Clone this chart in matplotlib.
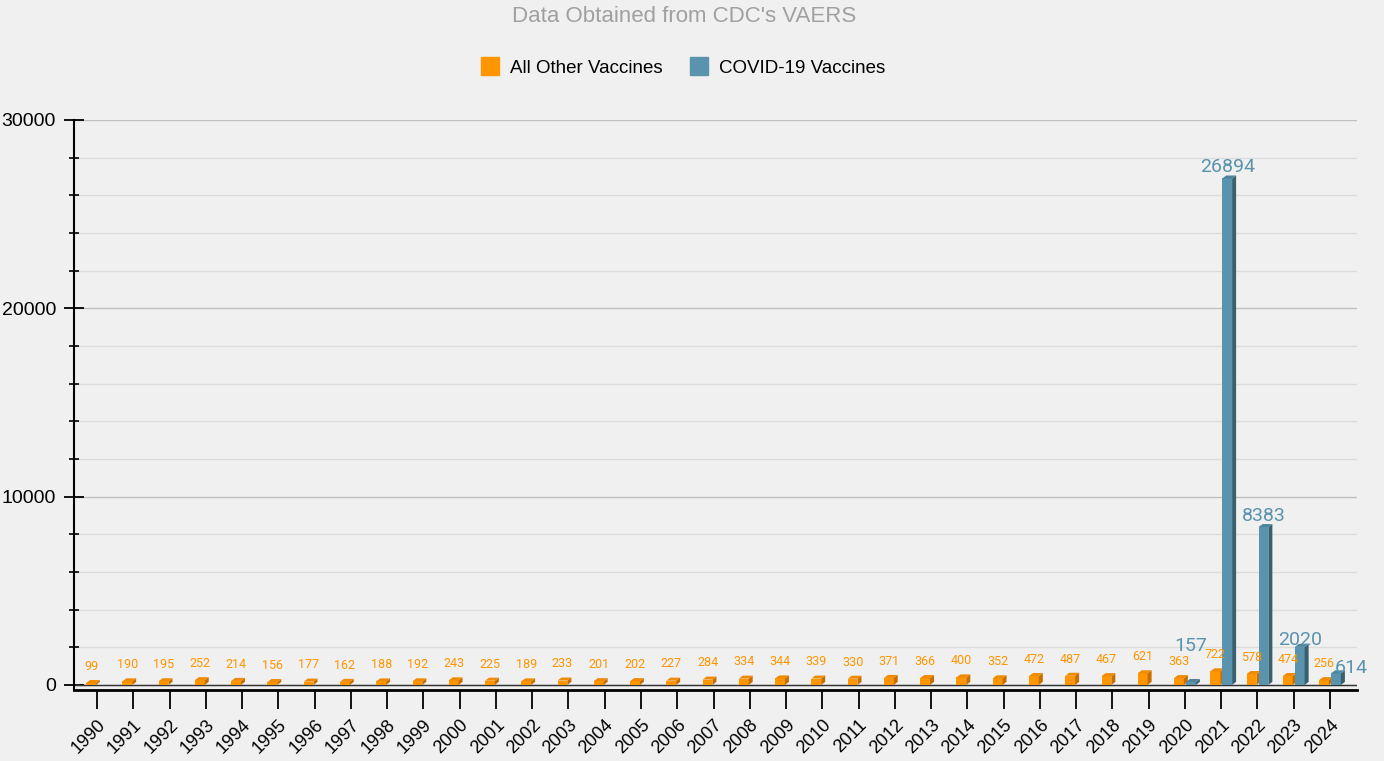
import matplotlib.pyplot as plt
import numpy as np
from matplotlib.lines import Line2D

years = list(range(1990, 2025))
other_vaccines = [99, 190, 195, 252, 214, 156, 177, 162, 188, 192,
                  243, 225, 189, 233, 201, 202, 227, 284, 334, 344,
                  339, 330, 371, 366, 400, 352, 472, 487, 467, 621,
                  363, 722, 578, 474, 256]
covid_years = [2020, 2021, 2022, 2023, 2024]
covid_vaccines = [157, 26894, 8383, 2020, 614]

ORANGE, ORANGE_SIDE, ORANGE_TOP = '#ff9500', '#c46f00', '#f08a00'
BLUE, BLUE_SIDE, BLUE_TOP = '#5a93ae', '#38606f', '#4d849c'
BG = '#f0f0f0'

plt.rcParams['font.family'] = ['Liberation Sans', 'DejaVu Sans']

fig = plt.figure(figsize=(13.84, 7.61), dpi=100, facecolor=BG)
ax = fig.add_axes([74 / 1384, 1 - 690 / 761, 1283 / 1384, 570 / 761])
ax.set_facecolor(BG)

x = np.arange(len(years))
xc = np.array([years.index(y) for y in covid_years])
w = 0.27
off = 0.165

ax.set_xlim(-0.634, len(years) - 1 + 0.744)
ax.set_ylim(-270, 30000)

# pixel size in data units, used for the fake 3d depth of the bars
bb = ax.get_window_extent()
px_x = (ax.get_xlim()[1] - ax.get_xlim()[0]) / bb.width
px_y = (ax.get_ylim()[1] - ax.get_ylim()[0]) / bb.height
dx, dy = 4.0 * px_x, 3.0 * px_y


def bar3d(xpos, vals, front, side, top):
    ax.bar(xpos, vals, w, color=front, zorder=4)
    for xi, v in zip(xpos, vals):
        x1 = xi + w / 2
        ax.fill([x1, x1 + dx, x1 + dx, x1], [0, dy, v + dy, v],
                color=side, lw=0, zorder=4)
        x0 = xi - w / 2
        ax.fill([x0, x1, x1 + dx, x0 + dx], [v, v, v + dy, v + dy],
                color=top, lw=0, zorder=4)


bar3d(x - off, other_vaccines, ORANGE, ORANGE_SIDE, ORANGE_TOP)
bar3d(xc + off, covid_vaccines, BLUE, BLUE_SIDE, BLUE_TOP)

for xi, v in zip(x, other_vaccines):
    ax.annotate(str(v), (xi - off, v), xytext=(0, 12), textcoords='offset points',
                ha='center', va='center', color=ORANGE, fontsize=9,
                family='Roboto', zorder=5)

# a few labels were pushed aside by the original chart to avoid overlap
nudge = {2020: (0, 26), 2023: (0, 5), 2024: (11, 4)}
for yr, xi, v in zip(covid_years, xc, covid_vaccines):
    nx, ny = nudge.get(yr, (0, 8))
    ax.annotate(str(v), (xi + off, v), xytext=(nx, ny),
                textcoords='offset points', ha='center', va='center',
                color=BLUE, fontsize=14, family='Roboto', zorder=5)

ax.set_xticks(x)
ax.set_xticklabels([str(y) for y in years], rotation=45, ha='right',
                   rotation_mode='anchor', fontsize=13)
ax.set_yticks([0, 10000, 20000, 30000])
ax.set_yticks(np.arange(0, 30001, 2000), minor=True)
ax.tick_params(axis='y', which='major', direction='inout', length=14, width=1.3,
               labelsize=14, pad=6)
ax.tick_params(axis='y', which='minor', direction='inout', length=6.5, width=1.2)
ax.tick_params(axis='x', which='major', direction='out', length=14, width=1.3, pad=5)

ax.grid(axis='y', which='minor', color='#dcdcdc', lw=1, zorder=0)
ax.grid(axis='y', which='major', color='#c0c0c0', lw=1, zorder=0)
ax.axhline(0, color='#333333', lw=1, zorder=2)

for s in ['top', 'right']:
    ax.spines[s].set_visible(False)
ax.spines['left'].set_linewidth(1.5)
ax.spines['bottom'].set_linewidth(2)

fig.text(0.494, 1 - 17 / 761, "Data Obtained from CDC's VAERS", ha='center',
         va='center', color='#a0a0a0', fontsize=16)

handles = [Line2D([], [], marker='s', ls='', color=ORANGE, markersize=13),
           Line2D([], [], marker='s', ls='', color=BLUE, markersize=13)]
fig.legend(handles, ['All Other Vaccines', 'COVID-19 Vaccines'], loc='center',
           bbox_to_anchor=(0.49, 1 - 68 / 761), ncol=2, frameon=False,
           fontsize=13.5, handletextpad=0.1, columnspacing=0.9)

fig.savefig('out.png', dpi=100, facecolor=BG)
